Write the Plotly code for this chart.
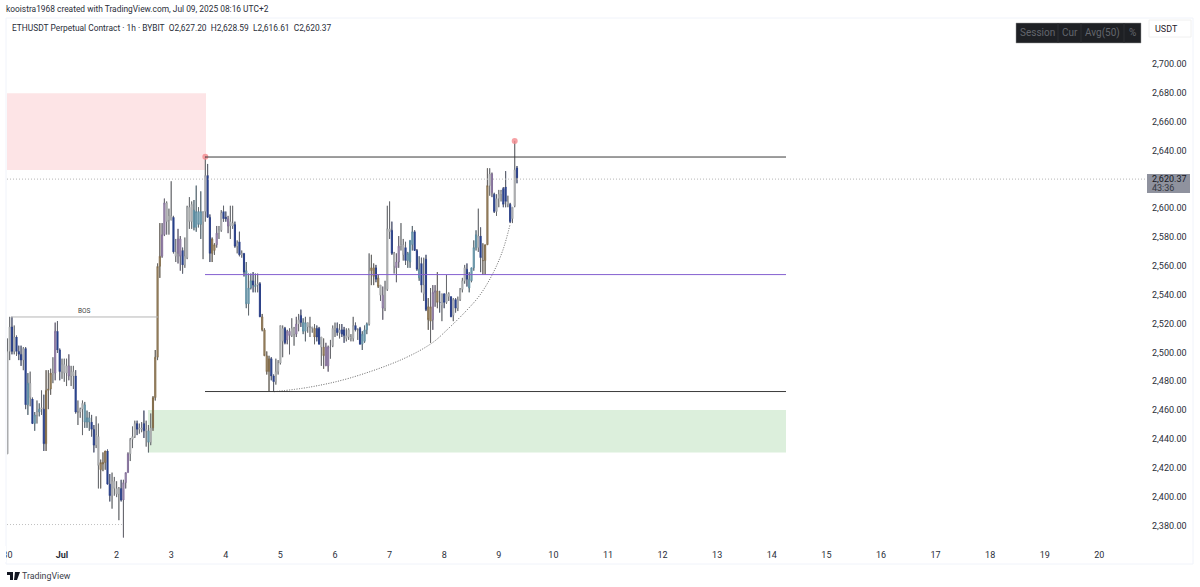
import pandas as pd
import plotly.graph_objects as go

# hourly candles from Jun 30 00:00, ten per row
opens = [
    2429, 2500, 2517, 2500, 2510, 2500, 2498, 2494, 2502, 2463,
    2478, 2467, 2450, 2456, 2458, 2460, 2460, 2436, 2473, 2474,
    2485, 2485, 2514, 2501, 2486, 2491, 2485, 2490, 2483, 2486,
    2483, 2458, 2458, 2460, 2463, 2451, 2454, 2451, 2446, 2435,
    2441, 2418, 2422, 2423, 2431, 2408, 2400, 2410, 2405, 2401,
    2405, 2397, 2409, 2416, 2429, 2439, 2441, 2450, 2446, 2447,
    2450, 2445, 2445, 2437, 2447, 2468, 2496, 2559, 2566, 2581,
    2603, 2594, 2591, 2593, 2569, 2568, 2578, 2570, 2560, 2565,
    2600, 2590, 2598, 2586, 2597, 2588, 2590, 2597, 2622, 2593,
    2568, 2570, 2574, 2582, 2584, 2597, 2592, 2592, 2590, 2587,
    2588, 2573, 2576, 2567, 2568, 2556, 2533, 2544, 2549, 2546,
    2546, 2547, 2524, 2515, 2497, 2486, 2495, 2483, 2479, 2486,
    2492, 2516, 2516, 2508, 2514, 2511, 2516, 2512, 2519, 2525,
    2520, 2514, 2520, 2517, 2517, 2516, 2516, 2516, 2510, 2503,
    2503, 2490, 2503, 2504, 2516, 2516, 2513, 2515, 2515, 2511,
    2510, 2510, 2509, 2518, 2515, 2516, 2505, 2507, 2515, 2519,
    2556, 2558, 2558, 2551, 2546, 2539, 2530, 2543, 2585, 2584,
    2568, 2562, 2562, 2573, 2574, 2572, 2563, 2562, 2574, 2583,
    2570, 2557, 2561, 2546, 2564, 2531, 2521, 2522, 2541, 2542,
    2534, 2532, 2540, 2534, 2540, 2538, 2525, 2536, 2530, 2536,
    2543, 2549, 2557, 2550, 2549, 2558, 2572, 2572, 2580, 2563,
    2563, 2574, 2615, 2623, 2609, 2597, 2606, 2609, 2613, 2614,
    2604, 2602, 2592, 2601, 2627.20,
]
highs = [
    2509, 2524, 2524, 2518, 2511, 2504, 2504, 2503, 2503, 2485,
    2486, 2468, 2458, 2466, 2464, 2473, 2470, 2487, 2487, 2488,
    2496, 2520, 2521, 2502, 2495, 2495, 2495, 2498, 2490, 2490,
    2487, 2466, 2461, 2466, 2465, 2459, 2458, 2456, 2449, 2455,
    2450, 2425, 2430, 2431, 2432, 2415, 2416, 2413, 2410, 2406,
    2411, 2411, 2416, 2430, 2440, 2448, 2452, 2452, 2450, 2451,
    2459, 2452, 2449, 2457, 2469, 2501, 2561, 2589, 2589, 2606,
    2604, 2599, 2618, 2594, 2578, 2585, 2580, 2572, 2579, 2601,
    2607, 2604, 2605, 2615, 2600, 2611, 2597, 2635, 2630, 2595,
    2579, 2575, 2587, 2587, 2598, 2601, 2597, 2594, 2601, 2601,
    2590, 2577, 2583, 2570, 2568, 2562, 2554, 2554, 2555, 2554,
    2554, 2548, 2526, 2516, 2500, 2497, 2496, 2484, 2495, 2494,
    2518, 2518, 2517, 2515, 2516, 2523, 2517, 2524, 2526, 2529,
    2523, 2524, 2520, 2524, 2517, 2519, 2518, 2517, 2510, 2509,
    2506, 2504, 2508, 2518, 2520, 2520, 2519, 2519, 2517, 2516,
    2516, 2512, 2524, 2520, 2516, 2517, 2514, 2518, 2520, 2568,
    2567, 2561, 2560, 2553, 2546, 2545, 2549, 2601, 2604, 2590,
    2569, 2568, 2580, 2589, 2578, 2576, 2569, 2577, 2587, 2584,
    2571, 2566, 2565, 2565, 2567, 2537, 2544, 2546, 2546, 2555,
    2542, 2540, 2540, 2553, 2541, 2538, 2537, 2537, 2538, 2544,
    2551, 2560, 2561, 2555, 2558, 2577, 2584, 2599, 2586, 2575,
    2574, 2627, 2627, 2624, 2610, 2609, 2612, 2612, 2614, 2625,
    2608, 2603, 2600, 2646, 2628.59,
]
lows = [
    2429, 2494, 2498, 2498, 2497, 2494, 2490, 2487, 2460, 2456,
    2462, 2450, 2445, 2450, 2455, 2456, 2431, 2431, 2460, 2470,
    2478, 2480, 2499, 2480, 2481, 2479, 2476, 2480, 2476, 2474,
    2457, 2449, 2454, 2442, 2447, 2447, 2445, 2441, 2430, 2433,
    2405, 2405, 2417, 2418, 2408, 2396, 2391, 2400, 2399, 2383,
    2396, 2371, 2405, 2416, 2424, 2433, 2440, 2442, 2443, 2444,
    2440, 2434, 2430, 2435, 2445, 2466, 2494, 2551, 2565, 2580,
    2581, 2581, 2591, 2568, 2562, 2561, 2556, 2554, 2558, 2564,
    2585, 2585, 2584, 2583, 2586, 2578, 2564, 2590, 2593, 2562,
    2562, 2567, 2572, 2578, 2583, 2590, 2590, 2582, 2578, 2585,
    2572, 2568, 2566, 2565, 2552, 2530, 2525, 2543, 2541, 2541,
    2541, 2524, 2514, 2497, 2484, 2472, 2480, 2472, 2477, 2484,
    2491, 2496, 2505, 2505, 2498, 2510, 2504, 2510, 2514, 2517,
    2512, 2507, 2513, 2510, 2513, 2505, 2507, 2505, 2490, 2488,
    2490, 2486, 2495, 2503, 2510, 2511, 2509, 2510, 2506, 2507,
    2508, 2507, 2507, 2514, 2508, 2505, 2501, 2506, 2512, 2518,
    2546, 2546, 2548, 2544, 2535, 2522, 2528, 2542, 2578, 2567,
    2554, 2548, 2558, 2570, 2563, 2560, 2558, 2558, 2570, 2570,
    2556, 2549, 2541, 2535, 2528, 2515, 2506, 2515, 2531, 2530,
    2527, 2521, 2530, 2533, 2535, 2524, 2521, 2527, 2528, 2535,
    2541, 2547, 2545, 2541, 2548, 2556, 2570, 2569, 2555, 2553,
    2553, 2574, 2608, 2607, 2596, 2594, 2600, 2604, 2600, 2600,
    2600, 2589, 2589, 2600, 2616.61,
]
closes = [
    2500, 2517, 2500, 2510, 2500, 2498, 2494, 2502, 2463, 2478,
    2468, 2450, 2456, 2458, 2460, 2461, 2436, 2473, 2474, 2485,
    2484, 2514, 2501, 2486, 2491, 2485, 2490, 2483, 2486, 2483,
    2458, 2458, 2460, 2464, 2451, 2454, 2451, 2446, 2435, 2442,
    2421, 2423, 2423, 2431, 2408, 2400, 2410, 2405, 2401, 2405,
    2397, 2409, 2416, 2429, 2439, 2441, 2450, 2446, 2447, 2446,
    2445, 2446, 2437, 2447, 2468, 2496, 2559, 2566, 2581, 2603,
    2590, 2591, 2594, 2569, 2566, 2578, 2566, 2560, 2566, 2600,
    2590, 2602, 2586, 2597, 2588, 2597, 2597, 2622, 2593, 2568,
    2578, 2574, 2582, 2584, 2596, 2592, 2593, 2587, 2587, 2589,
    2573, 2575, 2567, 2568, 2555, 2533, 2544, 2549, 2546, 2545,
    2547, 2524, 2515, 2497, 2486, 2495, 2483, 2479, 2486, 2492,
    2518, 2507, 2506, 2514, 2511, 2516, 2512, 2519, 2522, 2520,
    2514, 2520, 2517, 2517, 2516, 2510, 2510, 2505, 2503, 2497,
    2490, 2503, 2503, 2516, 2515, 2513, 2515, 2512, 2511, 2509,
    2515, 2509, 2518, 2515, 2515, 2505, 2512, 2515, 2519, 2556,
    2558, 2552, 2550, 2545, 2539, 2530, 2543, 2585, 2583, 2568,
    2559, 2558, 2573, 2574, 2567, 2563, 2568, 2577, 2583, 2570,
    2557, 2551, 2546, 2540, 2529, 2522, 2531, 2541, 2542, 2534,
    2534, 2540, 2534, 2540, 2538, 2524, 2536, 2530, 2536, 2543,
    2549, 2558, 2550, 2544, 2558, 2572, 2581, 2580, 2565, 2563,
    2574, 2615, 2623, 2610, 2597, 2606, 2609, 2611, 2602, 2604,
    2602, 2590, 2600, 2626, 2620.37,
]
# tone of each candle, ten per row: g grey, b navy, c teal, t tan, p mauve
tones = list(
    "ggbgbbbgbc"
    "gbcgcgbttt"
    "gpbbgggpgg"
    "bgggcccbbg"
    "gtttbbgggg"
    "bpppgggbgg"
    "bgcgttttpp"
    "gggbgppbgg"
    "ggccccggbb"
    "ttpggbbpgg"
    "bgbgbcccbc"
    "gbttttbbgg"
    "ggbppggpgb"
    "ccgggtbbgt"
    "ppgggbgbbg"
    "gggbgbcccg"
    "ttbtgpgggb"
    "gppggbcccb"
    "bcbgbttppt"
    "bgbggbgbgg"
    "ggbccccgbt"
    "ttgpbgggbb"
    "gbggb"
)

tick_days = ["2025-06-30", "2025-07-01", "2025-07-02", "2025-07-03", "2025-07-04", "2025-07-05", "2025-07-06",
             "2025-07-07", "2025-07-08", "2025-07-09", "2025-07-10", "2025-07-11", "2025-07-12", "2025-07-13",
             "2025-07-14", "2025-07-15", "2025-07-16", "2025-07-17", "2025-07-18", "2025-07-19", "2025-07-20"]
tick_labels = ["30", "<b>Jul</b>", "2", "3", "4", "5", "6", "7", "8", "9", "10", "11", "12", "13", "14", "15",
               "16", "17", "18", "19", "20"]
price_ticks = [2380, 2400, 2420, 2440, 2460, 2480, 2500, 2520, 2540, 2560, 2580, 2600, 2640, 2660, 2680, 2700]

# drawings on the chart
supply_zone = [2625.8, 2679]
demand_zone = [2430, 2459.4]
range_high = 2634.8
range_mid = 2553.3
range_low = 2472.2
bos_level = 2523.9
swing_low = 2380
last_line = 2619.5
arc_hours = [117.2, 133, 150.6, 173.9, 186.7, 193.2, 202, 207.7, 213.5, 217.8, 220.9]
arc_prices = [2472.1, 2475.3, 2481.6, 2494.8, 2505.9, 2514.9, 2528.7, 2539.1, 2554.4, 2570.3, 2587.7]
dot_hours = [87, 223]
dot_prices = [2635, 2646]

TONES = {
    "g": ("#a4a6a8", "#b9bbbc"),
    "b": ("#2b3f86", "#1c4596"),
    "c": ("#5b8ba0", "#93b7c0"),
    "t": ("#806a48", "#b5a080"),
    "p": ("#84709a", "#b7a8c0"),
}

start = pd.Timestamp("2025-06-30 00:00")
times = pd.date_range(start, periods=len(opens), freq="h")


def at_hour(h):
    return start + pd.Timedelta(hours=h)


# pixel helpers for the page furniture, plot area is x 7-1146, y 18-545
def px(x):
    return (x - 7) / 1139


def py(y):
    return (545 - y) / 527


fig = go.Figure()

df = pd.DataFrame({"t": times, "o": opens, "h": highs, "l": lows, "c": closes, "tone": tones})
for tone, (edge, fill) in TONES.items():
    part = df[df["tone"] == tone]
    fig.add_candlestick(
        x=part["t"], open=part["o"], high=part["h"], low=part["l"], close=part["c"],
        increasing=dict(line=dict(color=edge, width=1), fillcolor=fill),
        decreasing=dict(line=dict(color=edge, width=1), fillcolor=fill),
        whiskerwidth=0, showlegend=False,
    )

# darker wicks outside the bodies
wick_x, wick_y = [], []
for row in df.itertuples():
    wick_x += [row.t, row.t, None, row.t, row.t, None]
    wick_y += [row.h, max(row.o, row.c), None, min(row.o, row.c), row.l, None]
fig.add_scatter(x=wick_x, y=wick_y, mode="lines", line=dict(color="#66686c", width=1), showlegend=False)

fig.add_scatter(
    x=[at_hour(h) for h in arc_hours], y=arc_prices, mode="lines",
    line=dict(color="#666666", width=1, dash="1px,1.5px", shape="spline"), showlegend=False,
)
fig.add_scatter(
    x=[at_hour(h) for h in dot_hours], y=dot_prices, mode="markers",
    marker=dict(color="#f4898f", size=6, opacity=0.8), showlegend=False,
)

shapes = [
    # zones
    dict(type="rect", xref="paper", x0=0, x1=px(206), yref="y", y0=supply_zone[0], y1=supply_zone[1],
         fillcolor="#fde4e6", line_width=0, layer="below"),
    dict(type="rect", xref="paper", x0=px(148), x1=px(786), yref="y", y0=demand_zone[0], y1=demand_zone[1],
         fillcolor="#dcefdc", line_width=0, layer="below"),
    # levels
    dict(type="line", xref="paper", x0=px(205), x1=px(786), yref="y", y0=range_high, y1=range_high,
         line=dict(color="#3a3a3a", width=1)),
    dict(type="line", xref="paper", x0=px(205), x1=px(786), yref="y", y0=range_mid, y1=range_mid,
         line=dict(color="#8560d0", width=1)),
    dict(type="line", xref="paper", x0=px(205), x1=px(786), yref="y", y0=range_low, y1=range_low,
         line=dict(color="#3a3a3a", width=1)),
    dict(type="line", xref="paper", x0=px(11), x1=px(158), yref="y", y0=bos_level, y1=bos_level,
         line=dict(color="#b5b5b5", width=1)),
    dict(type="line", xref="paper", x0=0, x1=px(124), yref="y", y0=swing_low, y1=swing_low,
         line=dict(color="#c0c0c0", width=1, dash="1px,2px")),
    dict(type="line", xref="paper", x0=0, x1=1, yref="y", y0=last_line, y1=last_line,
         line=dict(color="#b5b5b5", width=1, dash="1px,2px")),
    # frame
    dict(type="rect", xref="paper", yref="paper", x0=px(6), x1=px(1193), y0=py(564), y1=py(18),
         line=dict(color="#f0f3fa", width=1), layer="below"),
    # clipped first date label
    dict(type="rect", xref="paper", yref="paper", x0=px(0), x1=px(6), y0=py(562), y1=py(546),
         fillcolor="#ffffff", line_width=0),
    # last price tag
    dict(type="rect", xref="paper", yref="paper", x0=px(1147), x1=px(1190), y0=py(193), y1=py(174),
         fillcolor="#8f929e", line_width=0),
    # toolbar box
    dict(type="rect", xref="paper", yref="paper", x0=px(1016), x1=px(1141), y0=py(43), y1=py(23),
         fillcolor="#1e2024", line=dict(color="#9a9a9a", width=0.5)),
    # currency box
    dict(type="rect", xref="paper", yref="paper", x0=px(1149), x1=px(1191), y0=py(37), y1=py(20),
         fillcolor="#ffffff", line=dict(color="#f0f0f0", width=1)),
]
for sep in [1058, 1081, 1124]:
    shapes.append(dict(type="line", xref="paper", yref="paper", x0=px(sep), x1=px(sep), y0=py(43), y1=py(23),
                       line=dict(color="#2c2e33", width=1)))
# TradingView mark
shapes.append(dict(type="path", xref="paper", yref="paper", fillcolor="#131722", line_width=0,
                   path=" ".join([
                       f"M {px(7)} {py(572)} L {px(13)} {py(572)} L {px(13)} {py(580)} L {px(10)} {py(580)}"
                       f" L {px(10)} {py(575)} L {px(7)} {py(575)} Z",
                       f"M {px(15)} {py(572)} L {px(20)} {py(572)} L {px(17)} {py(580)} L {px(14)} {py(580)} Z",
                   ])))

FONT = "Roboto"


def label(x, y, text, size=9, color="#2a2e39", anchor="left"):
    return dict(xref="paper", yref="paper", x=px(x), y=py(y), text=text, showarrow=False, xanchor=anchor,
                yanchor="middle", font=dict(family=FONT, size=size, color=color), borderpad=0, borderwidth=0)


annotations = [
    label(6, 9, "kooistra1968 created with TradingView.com, Jul 09, 2025 08:16 UTC+2", size=8.4),
    label(12, 27.5, "ETHUSDT Perpetual Contract · 1h · BYBIT&nbsp;&nbsp;O2,627.20&nbsp;&nbsp;H2,628.59"
                    "&nbsp;&nbsp;L2,616.61&nbsp;&nbsp;C2,620.37", size=8.4),
    label(84, 311, "BOS", size=6.5, color="#444444", anchor="center"),
    label(1037, 33, "Session", size=10, color="#63666d", anchor="center"),
    label(1070, 33, "Cur", size=10, color="#63666d", anchor="center"),
    label(1102, 33, "Avg(50)", size=10, color="#63666d", anchor="center"),
    label(1132, 33, "%", size=10, color="#63666d", anchor="center"),
    label(1155, 29, "USDT", size=9, color="#1f222b"),
    label(1152, 179, "2,620.37", size=9, color="#16181f"),
    label(1152, 188, "43:36", size=9, color="#33363f"),
    label(22, 576, "TradingView", size=8.8, color="#3a3e49"),
]

fig.update_layout(
    width=1200, height=587,
    margin=dict(l=7, r=54, t=18, b=42),
    paper_bgcolor="#ffffff", plot_bgcolor="#ffffff",
    font=dict(family=FONT, size=9, color="#2a2e39"),
    showlegend=False, shapes=shapes, annotations=annotations,
    xaxis=dict(
        type="date", rangeslider_visible=False, automargin=False,
        range=[at_hour(-0.18), at_hour(500.5)],
        tickmode="array", tickvals=tick_days, ticktext=tick_labels, tickangle=0,
        showgrid=False, zeroline=False, showline=False, ticks="", ticklabelstandoff=3,
    ),
    yaxis=dict(
        side="right", range=[2365.8, 2731.2], automargin=False,
        tickmode="array", tickvals=price_ticks, tickformat=",.2f",
        showgrid=False, zeroline=False, showline=False, ticks="", ticklabelstandoff=5, ticklabelshift=1,
    ),
)

fig.write_html("out.html", config=dict(displayModeBar=False), post_script="document.body.style.margin='0';")
